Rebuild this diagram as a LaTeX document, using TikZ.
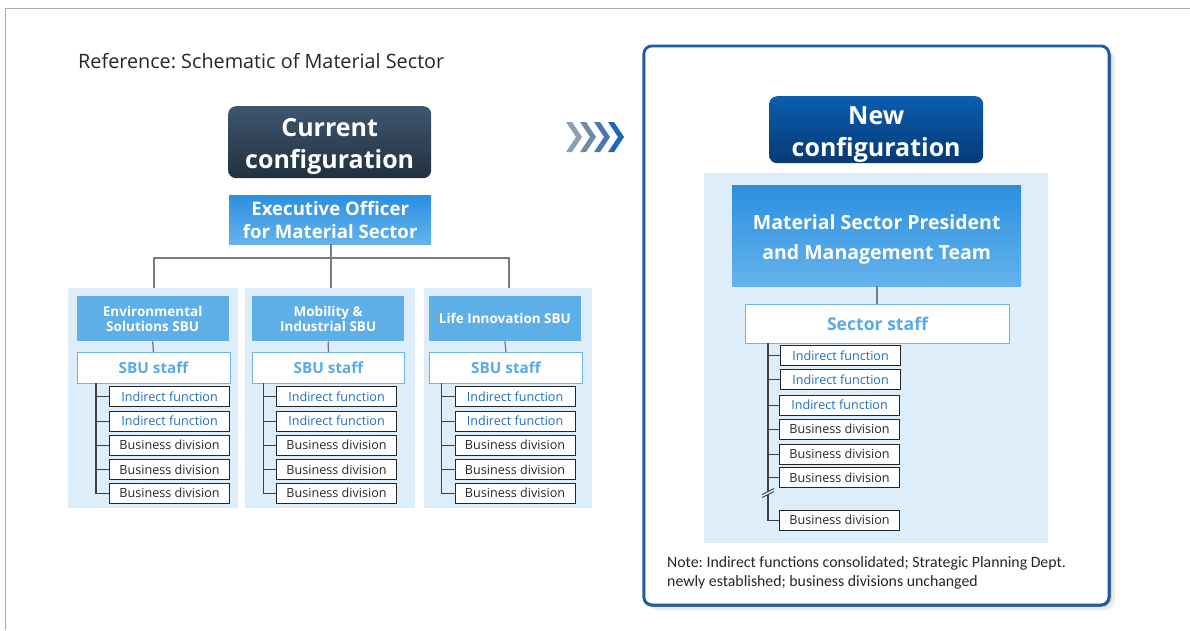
\documentclass[tikz,border=0pt]{standalone}
\usepackage{fontspec}
\setmainfont{Open Sans}
\newfontfamily\notefont{Carlito}
\frenchspacing
\definecolor{lightbg}{HTML}{DDEDFA}
\definecolor{hdrblue}{HTML}{5EAEE8}
\definecolor{topblue}{HTML}{2A8FE1}
\definecolor{botblue}{HTML}{66B3EC}
\definecolor{staffblue}{HTML}{5AAAE8}
\definecolor{staffline}{HTML}{6DB3EC}
\definecolor{fnblue}{HTML}{1E6EC3}
\definecolor{conngray}{HTML}{7A7A7A}
\definecolor{darktop}{HTML}{3E566E}
\definecolor{darkbot}{HTML}{22303F}
\definecolor{navytop}{HTML}{0B5DB0}
\definecolor{navybot}{HTML}{063A74}
\definecolor{panelblue}{HTML}{1A5DA6}
\definecolor{paneldark}{HTML}{1B3F66}
\definecolor{txt}{HTML}{262626}
\tikzset{
  x=1pt, y=-1pt,
  box/.style={anchor=north west, inner sep=0pt, align=center},
  bgpanel/.style={box, fill=lightbg},
  hdrbox/.style={box, fill=hdrblue, text=white, font=\bfseries\fontsize{13.5}{15.5}\selectfont},
  staffbox/.style={box, fill=white, draw=staffline, line width=0.9pt, text=staffblue, font=\bfseries\fontsize{15.3}{17}\selectfont},
  itembox/.style={box, fill=white, draw=black!85, line width=1.1pt, minimum width=120, minimum height=20, text=txt, font=\fontsize{12.6}{14}\selectfont},
  fnbox/.style={itembox, text=fnblue},
  conn/.style={draw=conngray, line width=1.3pt},
  tconn/.style={draw=black!75, line width=1.1pt},
  titlebox/.style={box, rounded corners=8pt},
  titletext/.style={inner sep=0pt, align=center, text=white, font=\bfseries\fontsize{25}{32}\selectfont},
}
\begin{document}
\begin{tikzpicture}
\useasboundingbox (0,0) rectangle (1190,630);
\fill[white] (0,0) rectangle (1190,630);
% outer frame
\draw[gray!65, line width=1.6pt] (5.5,630) -- (5.5,8.5) -- (1190,8.5);
\node[anchor=west, text=txt, font=\fontsize{19.8}{22}\selectfont, inner sep=0] (ref) at (78,61) {Reference: Schematic of Material Sector};

% ---------- current configuration ----------
\node[titlebox, top color=darktop, bottom color=darkbot, minimum width=203, minimum height=72] (cur) at (228,106) {};
\node[titletext] (curT) at ([yshift=-4.5pt]cur.center) {Current\\configuration};
\node[box, top color=topblue, bottom color=botblue, text=white, font=\bfseries\fontsize{18.6}{23}\selectfont, minimum width=202, minimum height=49] (exec) at (229,195) {Executive Officer\\for Material Sector};

% column backgrounds
\node[bgpanel, minimum width=170, minimum height=220] (bg1) at (68,288) {};
\node[bgpanel, minimum width=170, minimum height=220] (bg2) at (245,288) {};
\node[bgpanel, minimum width=168, minimum height=220] (bg3) at (424,288) {};

\coordinate (jn) at (331,258);
\coordinate (j1) at (154,288);
\coordinate (j2) at (331,288);
\coordinate (j3) at (509,288);
\draw[conn] (exec.south -| jn) -- (jn);
\draw[conn] (j1) |- (jn) -| (j3);
\draw[conn] (jn) -- (j2);

% headers
\node[hdrbox, minimum width=152, minimum height=45] (h1) at (76.5,296) {Environmental\\Solutions SBU};
\node[hdrbox, minimum width=152, minimum height=45] (h2) at (252,296) {Mobility \&\\Industrial SBU};
\node[hdrbox, minimum width=152.5, minimum height=45] (h3) at (428.5,296) {Life Innovation SBU};

% SBU staff
\node[staffbox, minimum width=153, minimum height=31] (s1) at (76.5,352) {SBU staff};
\node[staffbox, minimum width=152, minimum height=31] (s2) at (252,352) {SBU staff};
\node[staffbox, minimum width=153, minimum height=31] (s3) at (429,352) {SBU staff};
\draw[conn] (h1.south) -- (s1.north);
\draw[conn] (h2.south) -- (s2.north);
\draw[conn] (h3.south) -- (s3.north);

% items column 1
\node[fnbox]   (a1) at (109,386) {Indirect function};
\node[fnbox]   (a2) at (109,410.5) {Indirect function};
\node[itembox] (a3) at (109,434.5) {Business division};
\node[itembox] (a4) at (109,459) {Business division};
\node[itembox] (a5) at (109,482.5) {Business division};
\coordinate (t1) at (96,383);
\foreach \n in {a1,a2,a3,a4,a5} {\draw[tconn] (t1) |- (\n.west);}
% items column 2
\node[fnbox]   (b1) at (276,386) {Indirect function};
\node[fnbox]   (b2) at (276,410.5) {Indirect function};
\node[itembox] (b3) at (276,434.5) {Business division};
\node[itembox] (b4) at (276,459) {Business division};
\node[itembox] (b5) at (276,482.5) {Business division};
\coordinate (t2) at (263.5,383);
\foreach \n in {b1,b2,b3,b4,b5} {\draw[tconn] (t2) |- (\n.west);}
% items column 3
\node[fnbox]   (c1) at (454.5,386) {Indirect function};
\node[fnbox]   (c2) at (454.5,410.5) {Indirect function};
\node[itembox] (c3) at (454.5,434.5) {Business division};
\node[itembox] (c4) at (454.5,459) {Business division};
\node[itembox] (c5) at (454.5,482.5) {Business division};
\coordinate (t3) at (441.5,383);
\foreach \n in {c1,c2,c3,c4,c5} {\draw[tconn] (t3) |- (\n.west);}

% ---------- chevrons ----------
\foreach \i/\col in {0/8E9FB2,1/7189A6,2/4A78AE,3/1D66BE} {
  \definecolor{chev}{HTML}{\col}
  \fill[chev] (566+14*\i,122) -- (572+14*\i,122) -- (582+14*\i,137) -- (572+14*\i,152) -- (566+14*\i,152) -- (576+14*\i,137) -- cycle;
}

% ---------- new configuration panel ----------
\fill[black, opacity=0.08, rounded corners=10pt] (647,50) rectangle (1115,610);
\fill[black, opacity=0.10, rounded corners=9pt] (645,48) rectangle (1112,607);
\draw[paneldark, line width=3pt, rounded corners=8pt] (644,47) rectangle (1109,605);
\node[box, fill=white, draw=panelblue, line width=2.8pt, rounded corners=8pt, minimum width=465, minimum height=559] (panel) at (642.5,44.5) {};
\node[titlebox, top color=navytop, bottom color=navybot, minimum width=214, minimum height=67] (new) at (769,96) {};
\node[titletext] (newT) at ([yshift=-4.5pt]new.center) {New\\configuration};
\node[bgpanel, minimum width=344, minimum height=370] (nbg) at (704,173) {};
\node[box, top color=topblue, bottom color=botblue, minimum width=289, minimum height=101] (pres) at (732,185) {};
\node[inner sep=0pt, align=center, text=white, font=\bfseries\fontsize{19.5}{30}\selectfont] (presT) at ([yshift=-4pt]pres.center) {Material Sector President\\and Management Team};
\node[staffbox, font=\bfseries\fontsize{17.6}{19}\selectfont, minimum width=264, minimum height=39] (sec) at (745,304) {Sector staff};
\draw[conn] (pres.south -| 877,0) -- (sec.north -| 877,0);

\node[fnbox]   (n1) at (780,345) {Indirect function};
\node[fnbox]   (n2) at (780,369) {Indirect function};
\node[fnbox]   (n3) at (779,394.5) {Indirect function};
\node[itembox] (n4) at (779,418.5) {Business division};
\node[itembox] (n5) at (779,443.5) {Business division};
\node[itembox] (n6) at (779,467) {Business division};
\node[itembox] (n7) at (779,509.5) {Business division};
\coordinate (tn) at (768,343);
\foreach \n in {n1,n2,n3,n4,n5,n6,n7} {\draw[tconn] (tn) |- (\n.west);}
% break mark
\fill[lightbg] (762,494.5) -- (774,488.5) -- (774,491.5) -- (762,497.5) -- cycle;
\draw[black!75, line width=0.9pt] (762,494.5) -- (774,488.5);
\draw[black!75, line width=0.9pt] (762,497.5) -- (774,491.5);

\node[anchor=north west, inner sep=0, align=left, text=txt, font=\notefont\fontsize{15.8}{19}\selectfont] (note) at (667,556) {Note: Indirect functions consolidated; Strategic Planning Dept.\\newly established; business divisions unchanged};
\end{tikzpicture}
\end{document}
